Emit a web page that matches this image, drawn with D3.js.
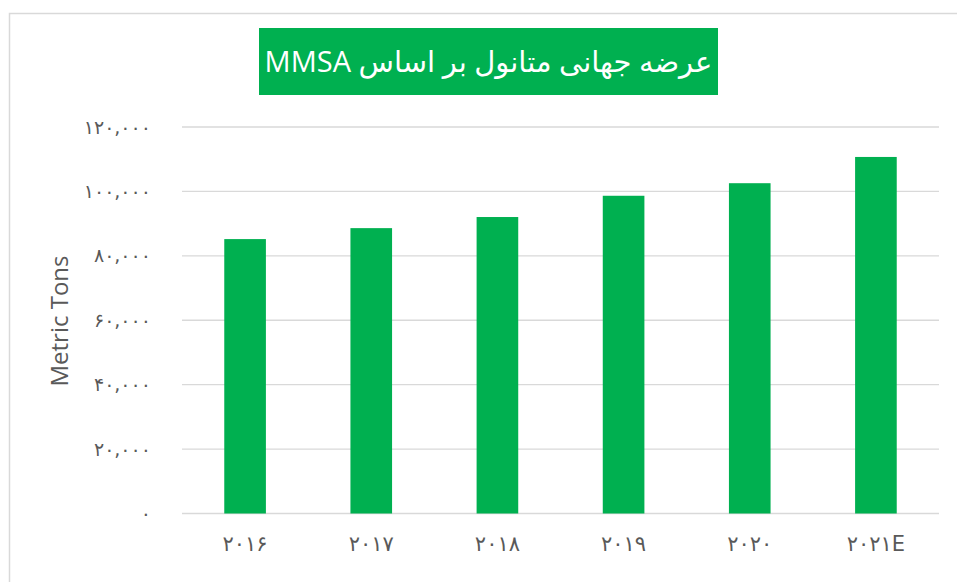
<!DOCTYPE html>
<html>
<head>
<meta charset="utf-8">
<script src="https://cdn.jsdelivr.net/npm/d3@7"></script>
<style>
  body { margin: 0; background: #fff; }
  .tick text { fill: #595959; }
</style>
</head>
<body>
<div class="chart"></div>
<script>
var svgWidth = 957;
var svgHeight = 582;

// data
var years = ["2016", "2017", "2018", "2019", "2020", "2021E"];
var yearLabels = ["۲۰۱۶", "۲۰۱۷", "۲۰۱۸", "۲۰۱۹", "۲۰۲۰", "۲۰۲۱E"];
var supply = [85200, 88600, 92050, 98650, 102550, 110700];
var yTicks = [0, 20000, 40000, 60000, 80000, 100000, 120000];
var yTickLabels = ["۰", "۲۰,۰۰۰", "۴۰,۰۰۰", "۶۰,۰۰۰", "۸۰,۰۰۰", "۱۰۰,۰۰۰", "۱۲۰,۰۰۰"];
var title = "عرضه جهانی متانول بر اساس MMSA";
var yTitle = "Metric Tons";

var plot = { left: 182, right: 939, top: 127, bottom: 513.5 };

var svg = d3.select(".chart")
  .append("svg")
  .attr("width", svgWidth)
  .attr("height", svgHeight);

// outer frame
svg.append("rect")
  .attr("x", 9.5).attr("y", 13.5)
  .attr("width", 960).attr("height", 600)
  .attr("fill", "none")
  .attr("stroke", "#d9d9d9")
  .attr("stroke-width", 1.5);

var xScale = d3.scaleBand()
  .domain(years)
  .range([plot.left, plot.right])
  .paddingInner(0.67)
  .paddingOuter(0.335);

var yScale = d3.scaleLinear()
  .domain([0, 120000])
  .range([plot.bottom, plot.top]);

// gridlines
svg.append("g")
  .selectAll("line")
  .data(yTicks)
  .enter().append("line")
    .attr("x1", plot.left)
    .attr("x2", plot.right)
    .attr("y1", function(d) { return yScale(d); })
    .attr("y2", function(d) { return yScale(d); })
    .attr("stroke", "#d9d9d9")
    .attr("stroke-width", 1.3);

// bars
svg.append("g")
  .selectAll("rect")
  .data(supply)
  .enter().append("rect")
    .attr("x", function(d, i) { return xScale(years[i]); })
    .attr("y", function(d) { return yScale(d); })
    .attr("width", xScale.bandwidth())
    .attr("height", function(d) { return yScale(0) - yScale(d); })
    .attr("fill", "#00b050");

// y axis labels
var leftAxis = d3.axisLeft(yScale)
  .tickValues(yTicks)
  .tickSize(0)
  .tickPadding(0)
  .tickFormat(function(d, i) { return yTickLabels[i]; });

svg.append("g")
  .attr("transform", "translate(151,0)")
  .call(leftAxis)
  .call(function(g) { g.select(".domain").remove(); })
  .selectAll("text")
    .attr("font-family", "'DejaVu Sans', sans-serif")
    .attr("font-size", 19);

// x axis labels
var bottomAxis = d3.axisBottom(xScale)
  .tickSize(0)
  .tickPadding(0)
  .tickFormat(function(d, i) { return yearLabels[i]; });

svg.append("g")
  .attr("transform", "translate(0,536)")
  .call(bottomAxis)
  .call(function(g) { g.select(".domain").remove(); })
  .selectAll("text")
    .attr("font-family", "'DejaVu Sans', sans-serif")
    .attr("font-size", 21);

// y title
svg.append("text")
  .attr("transform", "translate(68,321) rotate(-90)")
  .attr("text-anchor", "middle")
  .attr("font-family", "'Open Sans', 'Noto Sans', sans-serif")
  .attr("font-size", 24)
  .attr("fill", "#595959")
  .text(yTitle);

// title box
svg.append("rect")
  .attr("x", 259).attr("y", 28)
  .attr("width", 459).attr("height", 67)
  .attr("fill", "#00b050");

svg.append("text")
  .attr("x", 488.5)
  .attr("y", 72)
  .attr("text-anchor", "middle")
  .attr("direction", "rtl")
  .attr("font-family", "'Open Sans', 'DejaVu Sans', sans-serif")
  .attr("font-size", 29)
  .attr("fill", "#fff")
  .text(title);
</script>
</body>
</html>
